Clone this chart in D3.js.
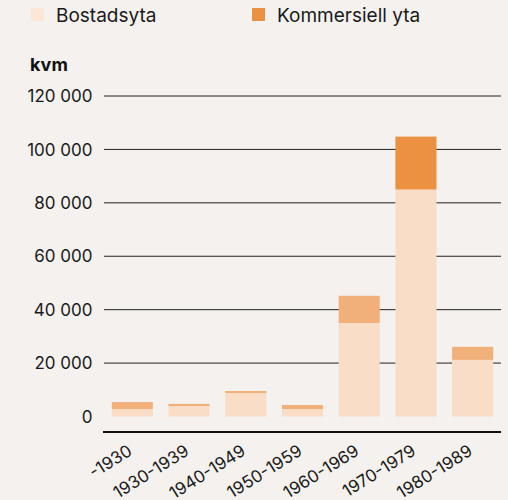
<!DOCTYPE html>
<html><head><meta charset="utf-8">
<script src="https://cdn.jsdelivr.net/npm/d3@7"></script>
<style>
html,body{margin:0;padding:0;background:#f4f1ee;}
svg{display:block;font-family:Inter, "Noto Sans", sans-serif;}
</style></head>
<body>
<svg id="c" width="508" height="500"></svg>
<script>
const categories = ["-1930","1930-1939","1940-1949","1950-1959","1960-1969","1970-1979","1980-1989"];
const bostadsyta = [2800, 3900, 8800, 2800, 35000, 85000, 21200];
const kommersiell = [2600, 800, 750, 1500, 10200, 19800, 4900];
const highlighted = "1970-1979";
const seriesNames = ["Bostadsyta","Kommersiell yta"];
const yTicks = [0, 20000, 40000, 60000, 80000, 100000, 120000];

const svg = d3.select("#c");
const colRes = "#f9ddc6", colComLight = "#f1b07a", colCom = "#ec9142";

const x = d3.scaleBand().domain(categories).range([104, 501]).paddingInner(0.276).paddingOuter(0.138);
const y = d3.scaleLinear().domain([0, 120000]).range([416.5, 96]);

const fmt = v => d3.format(",")(v).replace(/,/g, "\u00a0");

// gridlines
const g = svg.append("g");
g.selectAll("line.grid").data(yTicks.filter(d => d > 0)).join("line")
  .attr("x1", 104).attr("x2", 501)
  .attr("y1", d => y(d)).attr("y2", d => y(d))
  .attr("stroke", "#222").attr("stroke-width", 1);

// y labels
g.selectAll("text.yl").data(yTicks).join("text")
  .attr("x", 92.5).attr("y", d => y(d)).attr("dy", "0.36em")
  .attr("text-anchor", "end").attr("font-size", 17).attr("fill", "#1a1a1a")
  .text(d => fmt(d));

svg.append("text").attr("x", 30).attr("y", 71).attr("font-size", 18)
  .attr("font-weight", 700).attr("fill", "#111").text("kvm");

// stacked bars
const data = categories.map((c, i) => ({cat: c, res: bostadsyta[i], com: kommersiell[i]}));
const bars = svg.append("g");
bars.selectAll("rect.res").data(data).join("rect")
  .attr("x", d => x(d.cat)).attr("width", x.bandwidth())
  .attr("y", d => y(d.res)).attr("height", d => y(0) - y(d.res))
  .attr("fill", colRes);
bars.selectAll("rect.com").data(data).join("rect")
  .attr("x", d => x(d.cat)).attr("width", x.bandwidth())
  .attr("y", d => y(d.res + d.com)).attr("height", d => y(d.res) - y(d.res + d.com))
  .attr("fill", d => d.cat === highlighted ? colCom : colComLight);

// x axis baseline
svg.append("line").attr("x1", 103).attr("x2", 501).attr("y1", 432).attr("y2", 432)
  .attr("stroke", "#111").attr("stroke-width", 2);

// x labels
svg.append("g").selectAll("text").data(categories).join("text")
  .attr("transform", d => `translate(${x(d) + x.bandwidth()/2 + 1},${454}) rotate(-32)`)
  .attr("text-anchor", "end").attr("font-size", 17).attr("fill", "#1a1a1a")
  .text(d => d);

// legend
const leg = svg.append("g");
const legX = [31, 252];
const legCols = ["#fce6d6", colCom];
seriesNames.forEach((n, i) => {
  leg.append("rect").attr("x", legX[i]).attr("y", 8).attr("width", 13).attr("height", 13)
    .attr("fill", legCols[i]);
  leg.append("text").attr("x", legX[i] + 25).attr("y", 21.5).attr("font-size", 19)
    .attr("fill", "#1a1a1a").text(n);
});
</script>
</body></html>
